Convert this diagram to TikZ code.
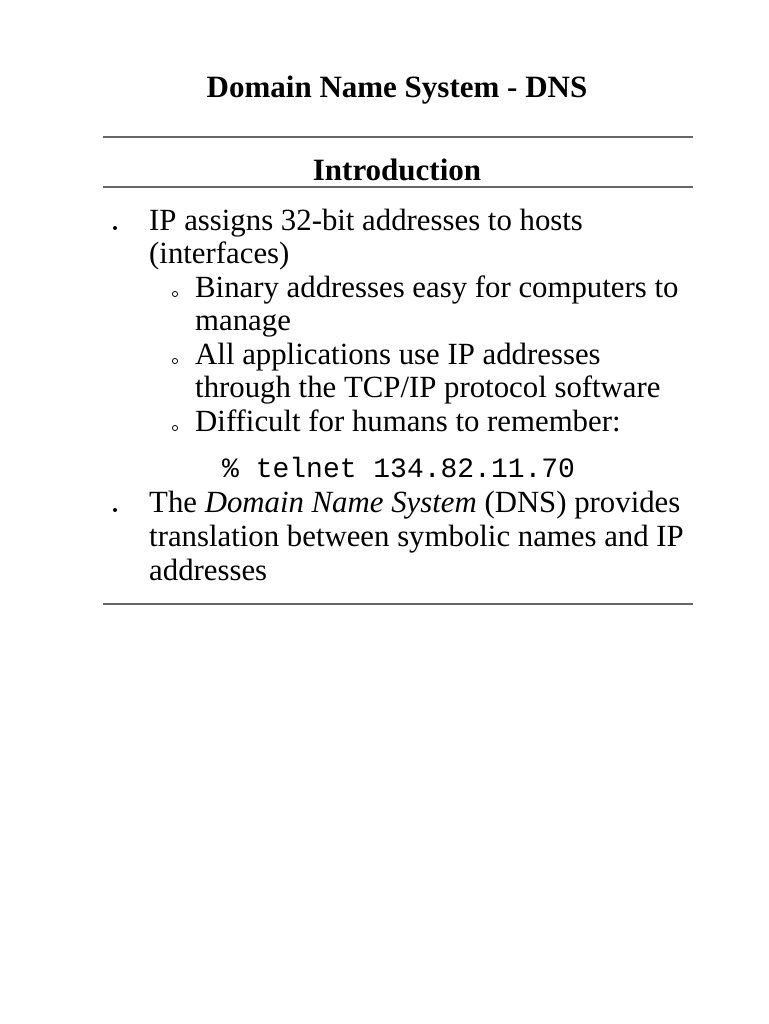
\documentclass[tikz,border=0pt]{standalone}
\usepackage{fontspec}
\setmainfont{Liberation Serif}
\setmonofont{Liberation Mono}
\begin{document}
\begin{tikzpicture}[x=1pt,y=-1pt,
  txt/.style={anchor=base west,inner sep=0pt,font=\fontsize{30.8}{33}\selectfont},
  rule/.style={draw=black!60,line width=1.2pt}]
\useasboundingbox (0,0) rectangle (768,1024);
\fill[white] (0,0) rectangle (768,1024);
\node[anchor=base,inner sep=0pt,font=\fontsize{31}{33}\selectfont\bfseries] (title) at (397,98) {Domain Name System - DNS};
\draw[rule] (103,137) -- (693,137);
\node[anchor=base,inner sep=0pt,font=\fontsize{31}{33}\selectfont\bfseries] (intro) at (397,181) {Introduction};
\draw[rule] (103,187) -- (693,187);
\foreach \y in {230,512} \fill (115,\y-2) circle (2);
\foreach \y in {297,364,431} \draw[line width=0.8pt] (175,\y-3) circle (2.6);
\node[txt] (a1) at (149,230) {IP assigns 32-bit addresses to hosts};
\node[txt] (a2) at (149,263) {(interfaces)};
\node[txt] (b1) at (195,297) {Binary addresses easy for computers to};
\node[txt] (b2) at (195,330) {manage};
\node[txt] (c1) at (195,364) {All applications use IP addresses};
\node[txt] (c2) at (195,397) {through the TCP/IP protocol software};
\node[txt] (d1) at (195,431) {Difficult for humans to remember:};
\node[txt,font=\fontsize{28}{30}\ttfamily] (tel) at (222,477) {\% telnet 134.82.11.70};
\node[txt] (e1) at (149,512) {The \textit{Domain Name System} (DNS) provides};
\node[txt] (e2) at (149,546) {translation between symbolic names and IP};
\node[txt] (e3) at (149,580) {addresses};
\draw[rule] (103,604) -- (693,604);
\end{tikzpicture}
\end{document}
